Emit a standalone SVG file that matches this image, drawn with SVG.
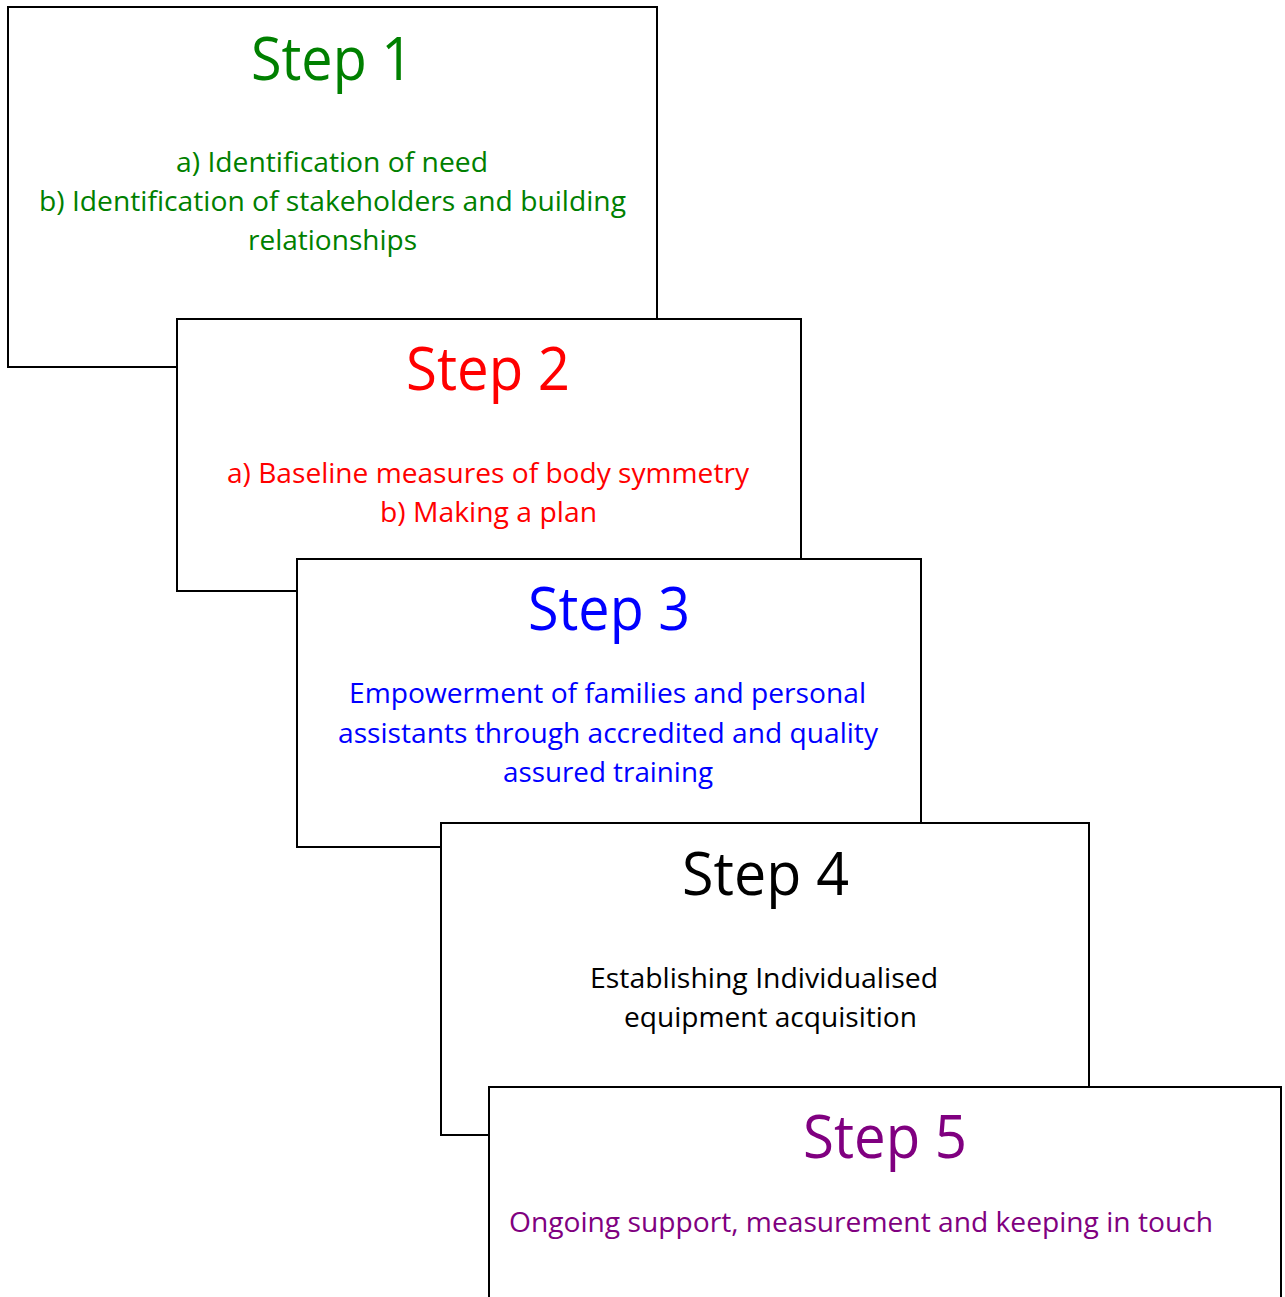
<svg xmlns="http://www.w3.org/2000/svg" width="1285" height="1297" viewBox="0 0 1285 1297">
<style>
.box{fill:#fff;stroke:#000;stroke-width:2}
.t{font-family:"Open Sans","Noto Sans","Liberation Sans",sans-serif;text-anchor:middle}
.title{font-size:61px}
.body{font-size:28px}
.g{fill:#008000}.r{fill:#ff0000}.b{fill:#0000ff}.k{fill:#000}.p{fill:#800080}
</style>
<rect width="1285" height="1297" fill="#fff"/>
<g id="connectors"></g>
<g id="step1">
<rect class="box" x="8" y="7" width="649" height="360"/>
<text class="t title g" x="332" y="80" textLength="162" lengthAdjust="spacingAndGlyphs">Step 1</text>
<text class="t body g" x="332" y="172" textLength="312" lengthAdjust="spacingAndGlyphs">a) Identification of need</text>
<text class="t body g" x="332.5" y="211" textLength="587" lengthAdjust="spacingAndGlyphs">b) Identification of stakeholders and building</text>
<text class="t body g" x="332.5" y="250" textLength="169" lengthAdjust="spacingAndGlyphs">relationships</text>
</g>
<g id="step2">
<rect class="box" x="177" y="319" width="624" height="272"/>
<text class="t title r" x="488" y="390" textLength="164" lengthAdjust="spacingAndGlyphs">Step 2</text>
<text class="t body r" x="488" y="483" textLength="522" lengthAdjust="spacingAndGlyphs">a) Baseline measures of body symmetry</text>
<text class="t body r" x="488.5" y="522" textLength="217" lengthAdjust="spacingAndGlyphs">b) Making a plan</text>
</g>
<g id="step3">
<rect class="box" x="297" y="559" width="624" height="288"/>
<text class="t title b" x="609" y="630" textLength="162" lengthAdjust="spacingAndGlyphs">Step 3</text>
<text class="t body b" x="607.5" y="703" textLength="517" lengthAdjust="spacingAndGlyphs">Empowerment of families and personal</text>
<text class="t body b" x="608" y="743" textLength="540" lengthAdjust="spacingAndGlyphs">assistants through accredited and quality</text>
<text class="t body b" x="608" y="782" textLength="210" lengthAdjust="spacingAndGlyphs">assured training</text>
</g>
<g id="step4">
<rect class="box" x="441" y="823" width="648" height="312"/>
<text class="t title k" x="765.5" y="895" textLength="167" lengthAdjust="spacingAndGlyphs">Step 4</text>
<text class="t body k" x="764" y="988" textLength="348" lengthAdjust="spacingAndGlyphs">Establishing Individualised</text>
<text class="t body k" x="770.5" y="1027" textLength="293" lengthAdjust="spacingAndGlyphs">equipment acquisition</text>
</g>
<g id="step5">
<rect class="box" x="489" y="1087" width="792" height="230"/>
<text class="t title p" x="885" y="1158" textLength="164" lengthAdjust="spacingAndGlyphs">Step 5</text>
<text class="t body p" x="861" y="1232" textLength="704" lengthAdjust="spacingAndGlyphs">Ongoing support, measurement and keeping in touch</text>
</g>
</svg>
